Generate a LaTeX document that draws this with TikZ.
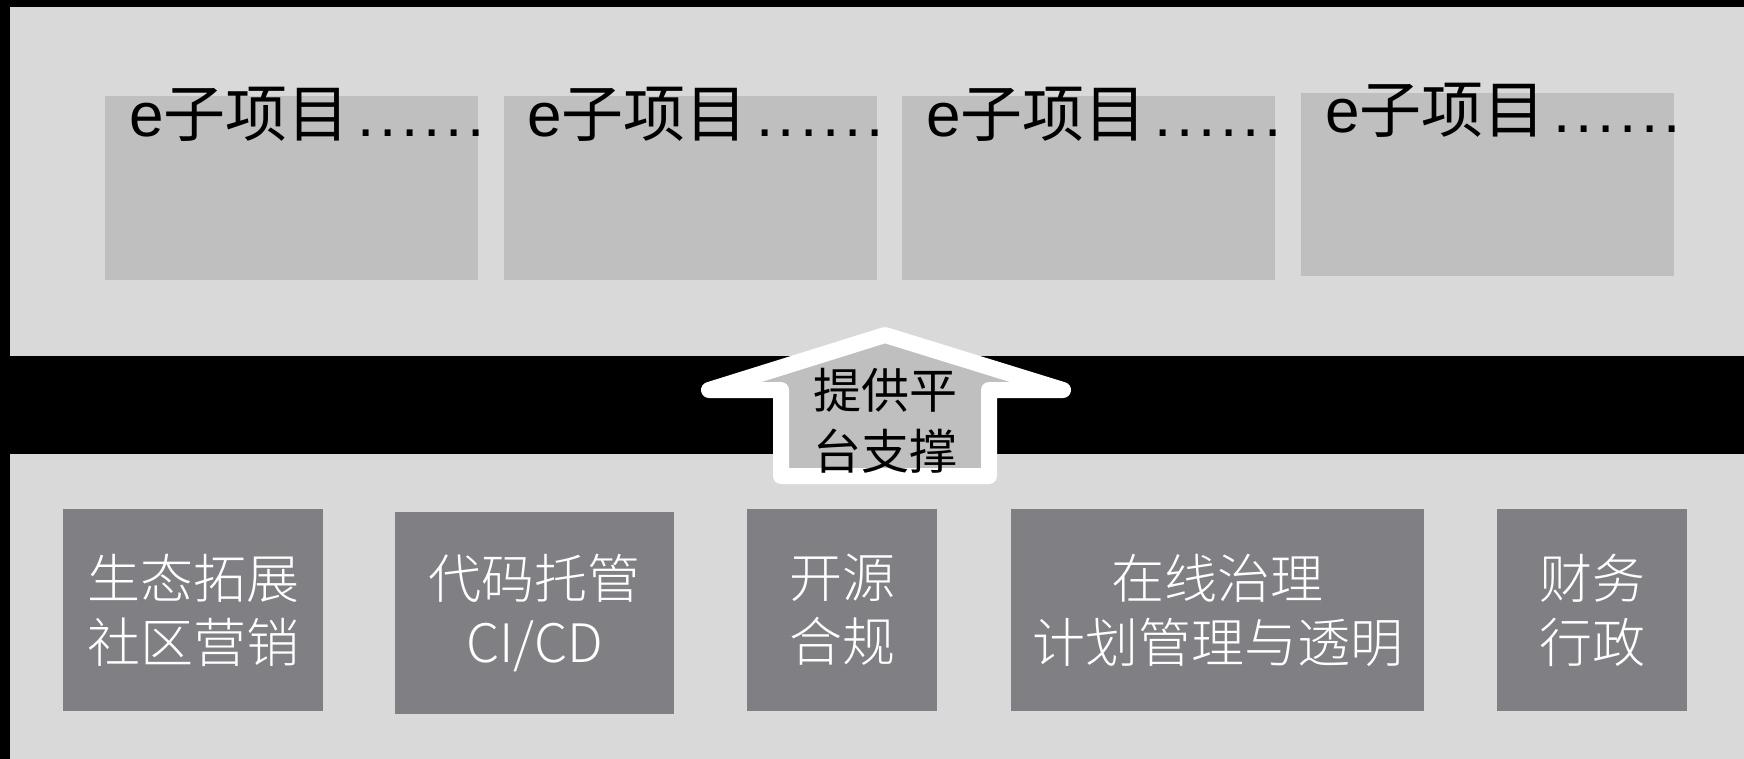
\documentclass[tikz,border=0pt]{standalone}
\usepackage{fontspec}
\setmainfont{Noto Sans CJK SC}
\newfontfamily\lat{Liberation Sans}
\newfontfamily\thin{Noto Sans CJK SC Light}
\usetikzlibrary{calc}
\definecolor{panelgray}{HTML}{D9D9D9}
\definecolor{boxgray}{HTML}{BFBFBF}
\definecolor{darkbox}{RGB}{128,127,132}
\newcommand{\sixdots}{{\lat\kern0.13em.\kern.077em.\kern.077em.\kern.077em.\kern.077em.\kern.077em.}}
\begin{document}
\begin{tikzpicture}[x=0.5pt,y=-0.5pt,
  subbox/.style={fill=boxgray,draw=none,inner sep=0pt,outer sep=0pt,minimum width=186.5pt,minimum height=91.5pt},
  toptext/.style={inner sep=0pt,outer sep=0pt,text=black,font=\fontsize{31pt}{36pt}\selectfont},
  basebox/.style={fill=darkbox,draw=none,inner sep=0pt,outer sep=0pt,minimum height=101pt,text=white,align=center,font=\thin\fontsize{26.5pt}{32pt}\selectfont},
  uparrow/.style={draw=white,fill=boxgray,line width=8pt,line join=round},
  arrowtext/.style={inner sep=0pt,text=black,align=center,font=\fontsize{24pt}{30.5pt}\selectfont}]
% background and panels
\path[use as bounding box,fill=black] (0,0) rectangle (1744,759);
\fill[panelgray] (10,7) rectangle (1744,356);
\fill[panelgray] (10,454) rectangle (1744,759);
% top sub-project boxes
\node[subbox] (b1) at (291.5,188) {};
\node[subbox] (b2) at (690,188) {};
\node[subbox] (b3) at (1088.5,188) {};
\node[subbox] (b4) at (1487.5,184.5) {};
\foreach \b in {b1,b2,b3,b4}{
  \node[toptext,anchor=base west] (\b t) at ($(\b.north west)+(24,40)$) {{\lat e}子项目\sixdots};
}
% bottom platform boxes
\node[basebox,minimum width=130pt] (p1) at (193,610) {生态拓展\\社区营销};
\node[basebox,minimum width=139.5pt] (p2) at (534.5,613) {代码托管\\CI/CD};
\node[basebox,minimum width=95pt] (p3) at (842,610) {开源\\合规};
\node[basebox,minimum width=206.5pt] (p4) at (1217.5,610) {在线治理\\计划管理与透明};
\node[basebox,minimum width=95pt] (p5) at (1592,610) {财务\\行政};
% arrow
\draw[uparrow] (885,335) -- (709,390) -- (781,390) -- (781,476) -- (989,476) -- (989,390) -- (1063,390) -- cycle;
\node[arrowtext] (at) at (885,421) {提供平\\台支撑};
\end{tikzpicture}
\end{document}
